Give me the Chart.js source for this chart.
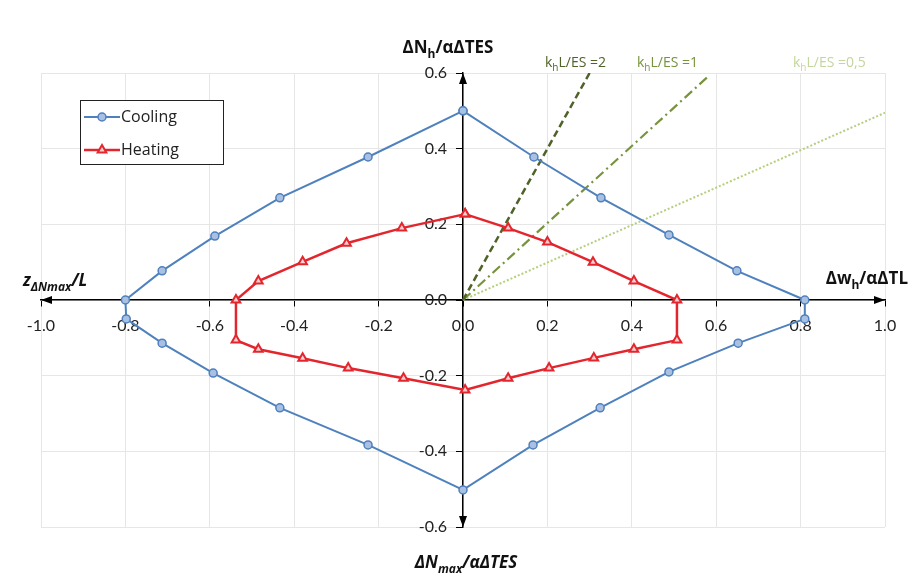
<!DOCTYPE html>
<html lang="en">
<head>
<meta charset="UTF-8">
<title>Cooling / Heating envelope</title>
<script src="https://cdn.jsdelivr.net/npm/chart.js"></script>
<style>
  body { margin: 0; background: #fff; }
  canvas { display: block; }
</style>
</head>
<body>
<canvas id="envelopeChart" width="911" height="579"></canvas>
<script>
// values
const coolingX = [0, 0.168, 0.327, 0.488, 0.649, 0.81, 0.81, 0.652, 0.488, 0.325, 0.166, 0, -0.225, -0.434, -0.592, -0.713, -0.798, -0.8, -0.713, -0.588, -0.434, -0.225, 0];
const coolingY = [0.5, 0.378, 0.27, 0.172, 0.077, 0, -0.05, -0.114, -0.19, -0.285, -0.383, -0.502, -0.383, -0.285, -0.193, -0.114, -0.05, 0, 0.077, 0.169, 0.27, 0.378, 0.5];

const heatingX = [0.005, 0.107, 0.2, 0.308, 0.405, 0.507, 0.507, 0.405, 0.31, 0.204, 0.107, 0.005, -0.141, -0.272, -0.38, -0.485, -0.538, -0.538, -0.485, -0.38, -0.276, -0.145, 0.005];
const heatingY = [0.227, 0.19, 0.153, 0.1, 0.05, 0, -0.106, -0.13, -0.153, -0.18, -0.207, -0.238, -0.207, -0.18, -0.154, -0.13, -0.106, 0, 0.05, 0.101, 0.15, 0.19, 0.227];

// k_h L / ES reference lines (start, end)
const ratio2X = [0, 0.3];
const ratio2Y = [0, 0.6];
const ratio1X = [0, 0.58];
const ratio1Y = [0, 0.59];
const ratio05X = [0, 1.0];
const ratio05Y = [0, 0.495];

const ratioLabels = ['=2', '=1', '=0,5'];
const seriesNames = ['Cooling', 'Heating'];

const xMin = -1.0, xMax = 1.0, yMin = -0.6, yMax = 0.6, tickStep = 0.2;

function toPoints(xs, ys) {
    return xs.map((x, i) => ({ x: x, y: ys[i] }));
}

const blue = '#4f81bd';
const red = '#e3262e';

// draws text made of normal / subscript pieces
function richText(ctx, parts, x, y, align, size, style, color) {
    const subSize = Math.round(size * 0.68);
    let total = 0;
    parts.forEach(p => {
        ctx.font = style + ' ' + (p[1] ? subSize : size) + 'px "Open Sans"';
        p.w = ctx.measureText(p[0]).width;
        total += p.w;
    });
    let cx = x;
    if (align === 'center') cx = x - total / 2;
    if (align === 'right') cx = x - total;
    ctx.fillStyle = color;
    ctx.textAlign = 'left';
    ctx.textBaseline = 'alphabetic';
    parts.forEach(p => {
        ctx.font = style + ' ' + (p[1] ? subSize : size) + 'px "Open Sans"';
        ctx.fillText(p[0], cx, y + (p[1] ? size * 0.28 : 0));
        cx += p.w;
    });
}

const decorPlugin = {
    id: 'decor',
    afterDraw(chart) {
        const ctx = chart.ctx;
        const xs = chart.scales.x, ys = chart.scales.y;
        const ox = xs.getPixelForValue(0), oy = ys.getPixelForValue(0);
        const a = chart.chartArea;
        ctx.save();

        // arrow heads on the axis ends
        ctx.fillStyle = '#000';
        function arrow(px, py, dx, dy) {
            const len = 11, half = 4;
            ctx.beginPath();
            ctx.moveTo(px, py);
            ctx.lineTo(px - dx * len - dy * half, py - dy * len + dx * half);
            ctx.lineTo(px - dx * len + dy * half, py - dy * len - dx * half);
            ctx.closePath();
            ctx.fill();
        }
        arrow(ox, a.top, 0, -1);
        arrow(ox, a.bottom, 0, 1);
        arrow(a.left, oy, -1, 0);
        arrow(a.right, oy, 1, 0);

        // axis titles
        richText(ctx, [['ΔN', 0], ['h', 1], ['/αΔTES', 0]], 448, 53, 'center', 17, 'bold', '#111');
        richText(ctx, [['Δw', 0], ['h', 1], ['/αΔTL', 0]], 908, 284, 'right', 17, 'bold', '#111');
        richText(ctx, [['z', 0], ['ΔNmax', 1], ['/L', 0]], 23, 286, 'left', 17, 'italic bold', '#111');
        richText(ctx, [['ΔN', 0], ['max', 1], ['/αΔTES', 0]], 466, 568, 'center', 17, 'italic bold', '#111');

        // labels of the k_h L / ES lines
        const labelCols = ['#4f6228', '#77933c', '#c3d69b'];
        const labelX = [545, 637, 793];
        ratioLabels.forEach((t, i) => {
            richText(ctx, [['k', 0], ['h', 1], ['L/ES ' + t, 0]], labelX[i], 67, 'left', 14, 'normal', labelCols[i]);
        });

        // legend box
        const lx = 80, ly = 100, lw = 143, lh = 64;
        ctx.fillStyle = '#fff';
        ctx.fillRect(lx, ly, lw, lh);
        ctx.strokeStyle = '#222';
        ctx.lineWidth = 1;
        ctx.strokeRect(lx + 0.5, ly + 0.5, lw, lh);
        chart.data.datasets.slice(0, 2).forEach((ds, i) => {
            const yy = ly + 17 + i * 33;
            ctx.strokeStyle = ds.borderColor;
            ctx.lineWidth = ds.borderWidth;
            ctx.beginPath();
            ctx.moveTo(lx + 4, yy);
            ctx.lineTo(lx + 40, yy);
            ctx.stroke();
            ctx.fillStyle = ds.pointBackgroundColor;
            ctx.strokeStyle = ds.borderColor;
            ctx.lineWidth = ds.pointBorderWidth;
            Chart.helpers.drawPoint(ctx, {
                pointStyle: ds.pointStyle, radius: ds.pointRadius, borderWidth: ds.pointBorderWidth
            }, lx + 22, yy);
            ctx.fillStyle = '#222';
            ctx.font = '16px "Open Sans"';
            ctx.textBaseline = 'middle';
            ctx.textAlign = 'left';
            ctx.fillText(seriesNames[i], lx + 41, yy);
        });
        ctx.restore();
    }
};

// en spaces push the right-aligned y labels off the axis line
const yLabelGap = '\u2002\u2002';

const chart = new Chart(document.getElementById('envelopeChart'), {
    type: 'scatter',
    data: {
        datasets: [
            {
                label: seriesNames[0],
                data: toPoints(coolingX, coolingY),
                showLine: true,
                borderColor: blue,
                borderWidth: 2,
                pointStyle: 'circle',
                pointRadius: 4,
                pointBorderWidth: 1.5,
                pointBorderColor: blue,
                pointBackgroundColor: '#a9c0e3',
                order: 1
            },
            {
                label: seriesNames[1],
                data: toPoints(heatingX, heatingY),
                showLine: true,
                borderColor: red,
                borderWidth: 2.5,
                pointStyle: 'triangle',
                pointRadius: 5,
                pointBorderWidth: 2,
                pointBorderColor: red,
                pointBackgroundColor: '#f6d0d0',
                order: 2
            },
            {
                label: 'kL/ES=2',
                data: toPoints(ratio2X, ratio2Y),
                showLine: true,
                borderColor: '#4f6228',
                borderWidth: 2.5,
                borderDash: [7, 4],
                pointRadius: 0,
                order: 3
            },
            {
                label: 'kL/ES=1',
                data: toPoints(ratio1X, ratio1Y),
                showLine: true,
                borderColor: '#77933c',
                borderWidth: 2.2,
                borderDash: [10, 4, 2, 4],
                pointRadius: 0,
                order: 4
            },
            {
                label: 'kL/ES=0.5',
                data: toPoints(ratio05X, ratio05Y),
                showLine: true,
                borderColor: '#b5cf7e',
                borderWidth: 2,
                borderDash: [2, 2],
                pointRadius: 0,
                order: 5
            }
        ]
    },
    options: {
        responsive: false,
        animation: false,
        layout: { padding: { left: 41, right: 26, top: 73, bottom: 52 } },
        plugins: {
            legend: { display: false },
            tooltip: { enabled: false }
        },
        scales: {
            x: {
                type: 'linear',
                position: { y: 0 },
                min: xMin,
                max: xMax,
                ticks: {
                    stepSize: tickStep,
                    padding: 10,
                    color: '#222',
                    font: { family: 'Lato', size: 16 },
                    callback: v => v.toFixed(1)
                },
                grid: {
                    color: '#e6e6e6',
                    tickColor: '#000',
                    tickLength: 6
                },
                border: { color: '#000', width: 1.5 }
            },
            y: {
                type: 'linear',
                position: { x: 0 },
                min: yMin,
                max: yMax,
                ticks: {
                    stepSize: tickStep,
                    color: '#222',
                    font: { family: 'Lato', size: 16 },
                    callback: v => v.toFixed(1) + yLabelGap
                },
                grid: {
                    color: '#e6e6e6',
                    tickColor: '#000',
                    tickLength: 6
                },
                border: { color: '#000', width: 1.5 }
            }
        }
    },
    plugins: [decorPlugin]
});
</script>
</body>
</html>
